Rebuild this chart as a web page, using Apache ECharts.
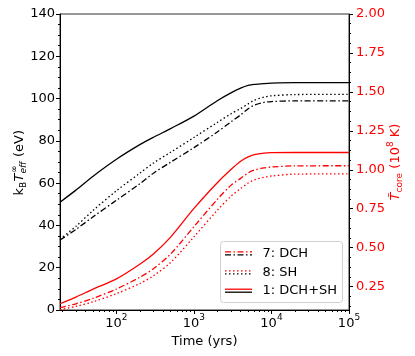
<!DOCTYPE html>
<html>
<head>
<meta charset="utf-8">
<script src="https://cdn.jsdelivr.net/npm/echarts@6.0.0/dist/echarts.min.js"></script>
<style>
  html, body { margin: 0; padding: 0; background: #fff; }
  #chart { width: 415px; height: 356px; }
</style>
</head>
<body>
<div id="chart"></div>
<script>
// time in years (log axis)
var times = [18.7, 30, 50, 100, 200, 300, 500, 1000, 2000, 3000, 4000, 5000, 6000, 8000, 10000, 20000, 100000];

// k_B T_eff (eV), left axis
var teffBoth  = [51.0, 56.7, 63.3, 71.3, 78.2, 81.7, 85.8, 91.7, 99.0, 102.7, 104.9, 106.2, 106.7, 107.1, 107.3, 107.5, 107.5];
var teffSH    = [33.4, 39.6, 47.1, 56.4, 64.7, 69.5, 74.6, 81.6, 88.7, 92.8, 95.3, 97.5, 99.2, 100.7, 101.3, 101.9, 102.0];
var teffDCH   = [33.1, 38.1, 44.1, 51.9, 59.7, 64.7, 69.9, 76.8, 84.2, 89.0, 92.3, 95.2, 96.9, 98.2, 98.6, 98.9, 98.9];

// T_core (1e8 K), right axis
var tcoreBoth = [0.140, 0.183, 0.234, 0.300, 0.394, 0.460, 0.568, 0.752, 0.917, 1.002, 1.055, 1.083, 1.097, 1.107, 1.110, 1.111, 1.111];
var tcoreDCH  = [0.115, 0.140, 0.175, 0.235, 0.310, 0.365, 0.460, 0.635, 0.810, 0.900, 0.945, 0.980, 0.998, 1.012, 1.018, 1.025, 1.026];
var tcoreSH   = [0.103, 0.123, 0.153, 0.205, 0.270, 0.320, 0.405, 0.570, 0.740, 0.830, 0.880, 0.915, 0.935, 0.952, 0.960, 0.972, 0.974];

var xTicks = [100, 1000, 10000, 100000];
var rightTicks = [0.25, 0.5, 0.75, 1.0, 1.25, 1.5, 1.75, 2.0];
var legendNames = ['7: DCH', '8: SH', '1: DCH+SH'];

var FONT = 'DejaVu Sans';
var DASHDOT = [6, 2.5, 1.5, 2.5];
var DOTTED = [1.5, 2.5];

window.onload = function(){
    drawChart();
};

function pairs(xs, ys){
    var out = [];
    xs.forEach(function(x, i){
        out.push([x, ys[i]]);
    });
    return out;
}

function minorLogTicks(){
    var out = [];
    for (var d = 10; d < 100000; d *= 10) {
        for (var k = 2; k <= 9; k++) out.push(k * d);
    }
    return out;
}

function minorRightTicks(){
    var out = [];
    for (var v = 0.125; v < 2.0; v += 0.0625) {
        if (Math.abs(v / 0.25 - Math.round(v / 0.25)) > 1e-6) out.push(v);
    }
    return out;
}

function lineSeries(data, color, dash, yIndex){
    return {
        type: 'line',
        yAxisIndex: yIndex,
        data: data,
        showSymbol: false,
        symbol: 'none',
        smooth: 0.3,
        lineStyle: { color: color, width: 1.3, type: dash },
        z: 3
    };
}

function drawChart(){
    var box = document.getElementById('chart');
    var myCharts = echarts.init(box, null, { renderer: 'canvas' });

    var legendItems = [];
    // legend frame
    legendItems.push({
        type: 'rect',
        shape: { x: 220.5, y: 241.5, width: 122, height: 61, r: 3 },
        style: { fill: 'rgba(255,255,255,0.8)', stroke: '#d0d0d0', lineWidth: 1 },
        z: 100
    });
    var rowY = [253.3, 272.3, 290.7];
    var dashes = [DASHDOT, DOTTED, null];
    rowY.forEach(function(y, i){
        legendItems.push({
            type: 'line',
            shape: { x1: 225, y1: y - 1.5, x2: 252, y2: y - 1.5 },
            style: { stroke: '#ff0000', lineWidth: 1.3, lineDash: dashes[i] },
            z: 101
        });
        legendItems.push({
            type: 'line',
            shape: { x1: 225, y1: y + 1.5, x2: 252, y2: y + 1.5 },
            style: { stroke: '#000', lineWidth: 1.3, lineDash: dashes[i] },
            z: 101
        });
        legendItems.push({
            type: 'text',
            x: 262.5, y: y,
            style: { text: legendNames[i], font: '13px "DejaVu Sans"', fill: '#000', align: 'left', verticalAlign: 'middle' },
            z: 101
        });
    });

    // left axis title: k_B T_eff^inf (eV)
    var leftTitle = {
        type: 'group',
        x: 20, y: 162,
        rotation: Math.PI / 2,
        children: [
            { type: 'text', x: -33.5, y: 0, style: { text: 'k', font: '13px "DejaVu Sans"', fill: '#000', verticalAlign: 'middle' } },
            { type: 'text', x: -26.0, y: 4, style: { text: 'B', font: '9px "DejaVu Sans"', fill: '#000', verticalAlign: 'middle' } },
            { type: 'text', x: -19.5, y: 0, style: { text: 'T', font: 'italic 13px "DejaVu Sans"', fill: '#000', verticalAlign: 'middle' } },
            { type: 'text', x: -11.0, y: -5, style: { text: '∞', font: '9px "DejaVu Sans"', fill: '#000', verticalAlign: 'middle' } },
            { type: 'text', x: -11.5, y: 4, style: { text: 'eff', font: 'italic 9px "DejaVu Sans"', fill: '#000', verticalAlign: 'middle' } },
            { type: 'text', x: 5.0, y: 0, style: { text: '(eV)', font: '13px "DejaVu Sans"', fill: '#000', verticalAlign: 'middle' } }
        ]
    };

    // right axis title: T_core (10^8 K)
    var rightTitle = {
        type: 'group',
        x: 396, y: 162,
        rotation: Math.PI / 2,
        children: [
            { type: 'text', x: -38.4, y: 0, style: { text: 'T\u0303', font: 'italic 13px "DejaVu Sans"', fill: '#ff0000', verticalAlign: 'middle' } },
            { type: 'text', x: -30.5, y: 4, style: { text: 'core', font: '9px "DejaVu Sans"', fill: '#ff0000', verticalAlign: 'middle' } },
            { type: 'text', x: -10.8, y: 0, style: { text: ' (10', font: '13px "DejaVu Sans"', fill: '#ff0000', verticalAlign: 'middle' } },
            { type: 'text', x: 14.9, y: -5, style: { text: '8', font: '9px "DejaVu Sans"', fill: '#ff0000', verticalAlign: 'middle' } },
            { type: 'text', x: 20.6, y: 0, style: { text: ' K)', font: '13px "DejaVu Sans"', fill: '#ff0000', verticalAlign: 'middle' } }
        ]
    };

    var option = {
        animation: false,
        backgroundColor: '#fff',
        textStyle: { fontFamily: FONT },
        grid: {
            left: 60, right: 66, top: 14, bottom: 46,
            show: true, borderColor: '#333', borderWidth: 1,
            outerBoundsMode: 'none'
        },
        xAxis: [{
            type: 'log',
            logBase: 10,
            min: 18.7,
            max: 100000,
            position: 'bottom',
            name: 'Time (yrs)',
            nameLocation: 'middle',
            nameGap: 20,
            nameTextStyle: { fontSize: 13, color: '#000', fontFamily: FONT, fontWeight: 'normal' },
            axisLine: { show: true, lineStyle: { color: '#000', width: 1 } },
            axisTick: { show: true, length: 4, customValues: xTicks, lineStyle: { color: '#000' } },
            minorTick: { show: false },
            splitLine: { show: false },
            axisLabel: {
                customValues: xTicks,
                margin: 3,
                formatter: function(v){
                    var e = Math.round(Math.log(v) / Math.LN10);
                    return '{b|10}{s|' + e + '}';
                },
                rich: {
                    b: { fontSize: 13, fontFamily: FONT, color: '#000', lineHeight: 17, verticalAlign: 'bottom' },
                    s: { fontSize: 9, fontFamily: FONT, color: '#000', lineHeight: 10, verticalAlign: 'top' }
                }
            }
        }, {
            // minor log ticks
            type: 'log',
            logBase: 10,
            min: 18.7,
            max: 100000,
            position: 'bottom',
            axisLine: { show: false },
            axisTick: { show: true, length: 2, customValues: minorLogTicks(), lineStyle: { color: '#000' } },
            axisLabel: { show: false },
            splitLine: { show: false }
        }],
        yAxis: [{
            type: 'value',
            position: 'left',
            min: 0,
            max: 140,
            interval: 20,
            axisLine: { show: true, lineStyle: { color: '#000', width: 1 } },
            axisTick: { show: true, length: 4, lineStyle: { color: '#000' } },
            minorTick: { show: true, splitNumber: 4, length: 2, lineStyle: { color: '#000' } },
            splitLine: { show: false },
            axisLabel: { fontSize: 13, fontFamily: FONT, color: '#000', margin: 5 }
        }, {
            type: 'value',
            position: 'right',
            min: 0.1,
            max: 2.0,
            axisLine: { show: true, lineStyle: { color: '#000', width: 1 } },
            axisTick: { show: true, length: 4, customValues: rightTicks, lineStyle: { color: '#000' } },
            splitLine: { show: false },
            axisLabel: {
                customValues: rightTicks,
                fontSize: 13, fontFamily: FONT, color: '#ff0000', margin: 7,
                formatter: function(v){ return v.toFixed(2); }
            }
        }, {
            // minor ticks of the right axis
            type: 'value',
            position: 'right',
            min: 0.1,
            max: 2.0,
            axisLine: { show: false },
            axisTick: { show: true, length: 2, customValues: minorRightTicks(), lineStyle: { color: '#000' } },
            axisLabel: { show: false },
            splitLine: { show: false }
        }],
        graphic: legendItems.concat([leftTitle, rightTitle]),
        series: [
            lineSeries(pairs(times, teffBoth), '#000', 'solid', 0),
            lineSeries(pairs(times, teffDCH), '#000', DASHDOT, 0),
            lineSeries(pairs(times, teffSH), '#000', DOTTED, 0),
            lineSeries(pairs(times, tcoreBoth), '#ff0000', 'solid', 1),
            lineSeries(pairs(times, tcoreDCH), '#ff0000', DASHDOT, 1),
            lineSeries(pairs(times, tcoreSH), '#ff0000', DOTTED, 1)
        ]
    };
    myCharts.setOption(option);
}
</script>
</body>
</html>
